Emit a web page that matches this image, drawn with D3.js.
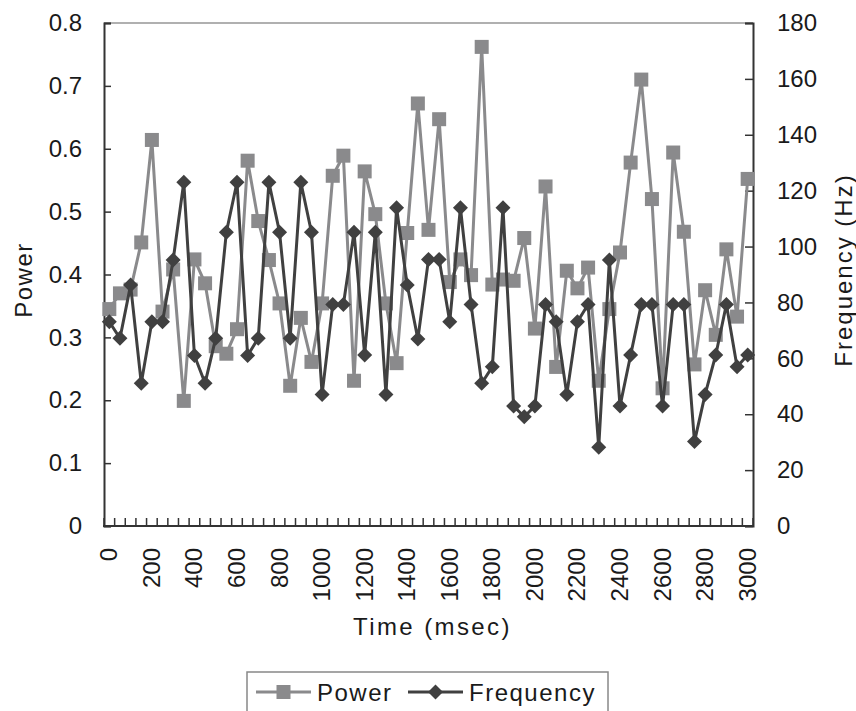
<!DOCTYPE html>
<html>
<head>
<meta charset="utf-8">
<script src="https://cdn.jsdelivr.net/npm/d3@7"></script>
<style>
  html, body { margin: 0; padding: 0; background: #fff; }
  svg text { font-family: "Liberation Sans", Arial, sans-serif; fill: #1a1a1a; }
</style>
</head>
<body>
<svg id="chart" width="856" height="711"></svg>
<script>
// ---- data ----
const categories = [0,50,100,150,200,250,300,350,400,450,500,550,600,650,700,750,800,850,900,950,
  1000,1050,1100,1150,1200,1250,1300,1350,1400,1450,1500,1550,1600,1650,1700,1750,1800,1850,1900,1950,
  2000,2050,2100,2150,2200,2250,2300,2350,2400,2450,2500,2550,2600,2650,2700,2750,2800,2850,2900,2950,3000];
const powerValues = [0.345,0.370,0.376,0.451,0.614,0.341,0.408,0.199,0.424,0.386,
  0.286,0.274,0.313,0.581,0.485,0.423,0.354,0.223,0.331,0.261,
  0.354,0.557,0.589,0.231,0.564,0.496,0.354,0.259,0.466,0.672,
  0.471,0.647,0.388,0.424,0.399,0.762,0.384,0.392,0.390,0.458,
  0.314,0.540,0.253,0.406,0.378,0.411,0.231,0.345,0.435,0.578,
  0.710,0.520,0.219,0.594,0.468,0.257,0.375,0.304,0.440,0.333,0.552];
const frequencyValues = [73.1,67.2,86.2,51.1,73.1,73.1,95.2,123.0,61.0,51.1,
  67.2,105.1,123.0,61.0,67.2,123.0,105.1,67.2,123.0,105.1,
  47.1,79.3,79.3,105.1,61.2,105.1,47.1,113.9,86.2,66.9,
  95.4,95.4,73.1,113.9,79.3,51.1,57.0,113.9,42.9,39.1,
  42.9,79.3,73.1,47.1,73.1,79.3,28.2,95.2,42.9,61.2,
  79.3,79.3,42.9,79.3,79.3,30.2,47.1,61.2,79.3,57.0,61.2];
const xTickLabels = ["0","200","400","600","800","1000","1200","1400","1600","1800","2000","2200","2400","2600","2800","3000"];
const powerTicks = [0,0.1,0.2,0.3,0.4,0.5,0.6,0.7,0.8];
const powerTickLabels = ["0","0.1","0.2","0.3","0.4","0.5","0.6","0.7","0.8"];
const freqTicks = [0,20,40,60,80,100,120,140,160,180];
const seriesNames = ["Power","Frequency"];
const axisTitles = {x: "Time (msec)", yLeft: "Power", yRight: "Frequency (Hz)"};

// ---- layout ----
const L = 104, R = 753, T = 23, B = 526;
const powerColor = "#8a8a8c", freqColor = "#404040", axisColor = "#333";

const svg = d3.select("#chart");
const x = d3.scaleBand().domain(categories).range([L, R]).padding(0);
const xc = d => x(d) + x.bandwidth() / 2;
const yP = d3.scaleLinear().domain([0, 0.8]).range([B, T]);
const yF = d3.scaleLinear().domain([0, 180]).range([B, T]);

// top border
svg.append("line").attr("x1", L).attr("x2", R).attr("y1", T).attr("y2", T)
  .attr("stroke", "#b0b0b0").attr("stroke-width", 2);

// left axis
const gL = svg.append("g").attr("transform", `translate(${L},0)`)
  .call(d3.axisLeft(yP).tickValues(powerTicks).tickSize(-7).tickPadding(22)
    .tickFormat((d, i) => powerTickLabels[i]));
// right axis
const gR = svg.append("g").attr("transform", `translate(${R},0)`)
  .call(d3.axisRight(yF).tickValues(freqTicks).tickSize(-8).tickPadding(24)
    .tickFormat(d3.format("d")));
[gL, gR].forEach(g => {
  g.select(".domain").attr("stroke", axisColor).attr("stroke-width", 2);
  g.selectAll(".tick line").attr("stroke", axisColor).attr("stroke-width", 1.5);
  g.selectAll(".tick text").style("font-size", "24px").attr("fill", "#1a1a1a");
});

// bottom axis: minor ticks at category boundaries
const boundaries = categories.map(c => x(c)).concat([R]);
svg.append("g").selectAll("line").data(boundaries).join("line")
  .attr("x1", d => d).attr("x2", d => d).attr("y1", B).attr("y2", B - 8)
  .attr("stroke", axisColor).attr("stroke-width", 1.5);
svg.append("line").attr("x1", L - 1).attr("x2", R + 1).attr("y1", B).attr("y2", B)
  .attr("stroke", axisColor).attr("stroke-width", 2);
// bottom labels
svg.append("g").selectAll("text").data(xTickLabels).join("text")
  .attr("transform", d => `translate(${xc(+d) + 8},${B + 22}) rotate(-90)`)
  .attr("text-anchor", "end")
  .style("font-size", "24px")
  .text(d => d);

// lines
const linePower = d3.line().x((d, i) => xc(categories[i])).y(d => yP(d));
const lineFreq = d3.line().x((d, i) => xc(categories[i])).y(d => yF(d));

svg.append("path").datum(powerValues).attr("d", linePower)
  .attr("fill", "none").attr("stroke", powerColor).attr("stroke-width", 3);
svg.append("g").selectAll("rect").data(powerValues).join("rect")
  .attr("x", (d, i) => xc(categories[i]) - 7).attr("y", d => yP(d) - 7)
  .attr("width", 14).attr("height", 14).attr("fill", powerColor);

svg.append("path").datum(frequencyValues).attr("d", lineFreq)
  .attr("fill", "none").attr("stroke", freqColor).attr("stroke-width", 3);
const diamond = s => `M0,${-s}L${s},0L0,${s}L${-s},0Z`;
svg.append("g").selectAll("path").data(frequencyValues).join("path")
  .attr("transform", (d, i) => `translate(${xc(categories[i])},${yF(d)})`)
  .attr("d", diamond(7.5)).attr("fill", freqColor);

// axis titles
svg.append("text").attr("x", (L + R) / 2 + 4).attr("y", 635).attr("text-anchor", "middle")
  .style("font-size", "24px").style("letter-spacing", "2.4px").text(axisTitles.x);
svg.append("text").attr("transform", `translate(32,280) rotate(-90)`)
  .attr("text-anchor", "middle").style("font-size", "24px").style("letter-spacing", "1.5px")
  .text(axisTitles.yLeft);
svg.append("text").attr("transform", `translate(852,270) rotate(-90)`)
  .attr("text-anchor", "middle").style("font-size", "24px").style("letter-spacing", "2px")
  .text(axisTitles.yRight);

// legend
const lg = svg.append("g");
lg.append("rect").attr("x", 247).attr("y", 672).attr("width", 361).attr("height", 60)
  .attr("fill", "#fff").attr("stroke", "#888").attr("stroke-width", 1.5);
const legendItems = [
  {name: seriesNames[0], x0: 256, color: powerColor, shape: "square"},
  {name: seriesNames[1], x0: 408, color: freqColor, shape: "diamond"}
];
const ly = 692;
legendItems.forEach(it => {
  lg.append("line").attr("x1", it.x0).attr("x2", it.x0 + 55).attr("y1", ly).attr("y2", ly)
    .attr("stroke", it.color).attr("stroke-width", 3);
  if (it.shape === "square") {
    lg.append("rect").attr("x", it.x0 + 27.5 - 7).attr("y", ly - 7).attr("width", 14).attr("height", 14)
      .attr("fill", it.color);
  } else {
    lg.append("path").attr("transform", `translate(${it.x0 + 27.5},${ly})`).attr("d", diamond(7.5))
      .attr("fill", it.color);
  }
  lg.append("text").attr("x", it.x0 + 61).attr("y", ly + 9).style("font-size", "24px")
    .style("letter-spacing", "1.5px").text(it.name);
});
</script>
</body>
</html>
